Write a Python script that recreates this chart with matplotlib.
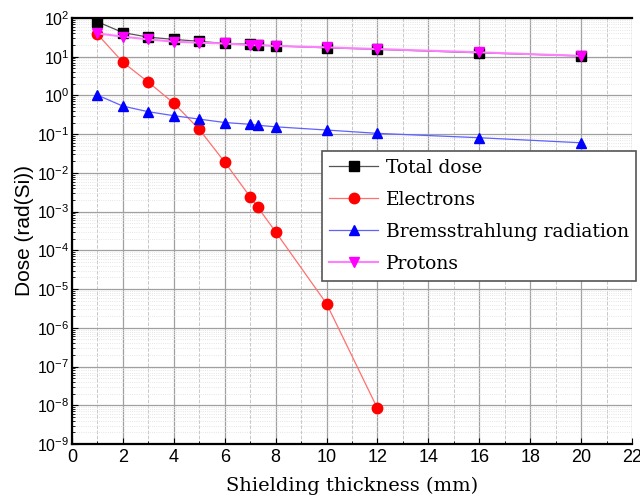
import numpy as np
import matplotlib.pyplot as plt
from matplotlib.ticker import LogLocator, MultipleLocator

# Shielding thickness (mm)
espesor = [1, 2, 3, 4, 5, 6, 7, 7.3, 8, 10, 12, 16, 20]
espesor_e = [1, 2, 3, 4, 5, 6, 7, 7.3, 8, 10, 12]

dosis_total = [80, 42, 32, 28, 25, 22, 21, 20, 19, 17, 15.5, 12.6, 10.5]
electrones = [38, 7.2, 2.2, 0.63, 0.133, 0.019, 0.0024, 0.0013, 0.0003, 4.2e-6, 8.3e-9]
bremsstrahlung = [1.02, 0.53, 0.38, 0.30, 0.245, 0.20, 0.18, 0.17, 0.155, 0.128, 0.105, 0.081, 0.060]
protones = [40, 33, 28, 24.5, 23, 22, 20, 20, 19, 17.5, 15.8, 13, 10.5]

fig = plt.figure(figsize=(6.4, 5.01), dpi=100)
ax = fig.add_axes([72/640, 1-444/501, 560/640, 426/501])

ax.plot(espesor, dosis_total, color='#555555', lw=0.9, marker='s', ms=6.5,
        mfc='black', mec='black', label='Total dose')
ax.plot(espesor_e, electrones, color='#ff7070', lw=0.9, marker='o', ms=7.5,
        mfc='red', mec='red', label='Electrons')
ax.plot(espesor, bremsstrahlung, color='#6060ff', lw=0.9, marker='^', ms=7.5,
        mfc='blue', mec='blue', label='Bremsstrahlung radiation')
ax.plot(espesor, protones, color='#ff80ff', lw=1.5, marker='v', ms=7.5,
        mfc='magenta', mec='magenta', label='Protons')

ax.set_yscale('log')
ax.set_xlim(0, 22)
ax.set_ylim(1e-9, 1e2)
ax.xaxis.set_major_locator(MultipleLocator(2))
ax.xaxis.set_minor_locator(MultipleLocator(1))
ax.yaxis.set_major_locator(LogLocator(base=10, numticks=20))
ax.yaxis.set_minor_locator(LogLocator(base=10, subs=np.arange(2, 10), numticks=20))

ax.grid(which='major', color='#a0a0a0', lw=0.9)
ax.grid(which='minor', axis='x', color='#c8c8c8', lw=0.7, ls='--')
ax.grid(which='minor', axis='y', color='#dddddd', lw=0.6, ls=':')
ax.set_axisbelow(True)

for s in ['left', 'bottom', 'top']:
    ax.spines[s].set_linewidth(1.6)
ax.spines['right'].set_visible(False)
ax.tick_params(which='both', direction='in')
ax.tick_params(axis='x', labelsize=13)
ax.tick_params(axis='y', labelsize=11.5, pad=2)
ax.tick_params(which='major', length=4)
ax.tick_params(which='minor', length=2)
for lab in ax.get_xticklabels() + ax.get_yticklabels():
    lab.set_family('Liberation Sans')

ax.set_xlabel('Shielding thickness (mm)', family='DejaVu Serif', fontsize=14, labelpad=8)
ax.set_ylabel('Dose (rad(Si))', family='Liberation Sans', fontsize=15, labelpad=2)

leg = ax.legend(loc='upper left', bbox_to_anchor=(0.446, 0.687), frameon=True,
                fancybox=False, edgecolor='#555555', framealpha=1, borderaxespad=0,
                prop={'family': 'DejaVu Serif', 'size': 13.5},
                handlelength=2.6, borderpad=0.4, labelspacing=0.75, handletextpad=0.4)
leg.get_frame().set_linewidth(1.2)

fig.savefig('out.png', dpi=100)
